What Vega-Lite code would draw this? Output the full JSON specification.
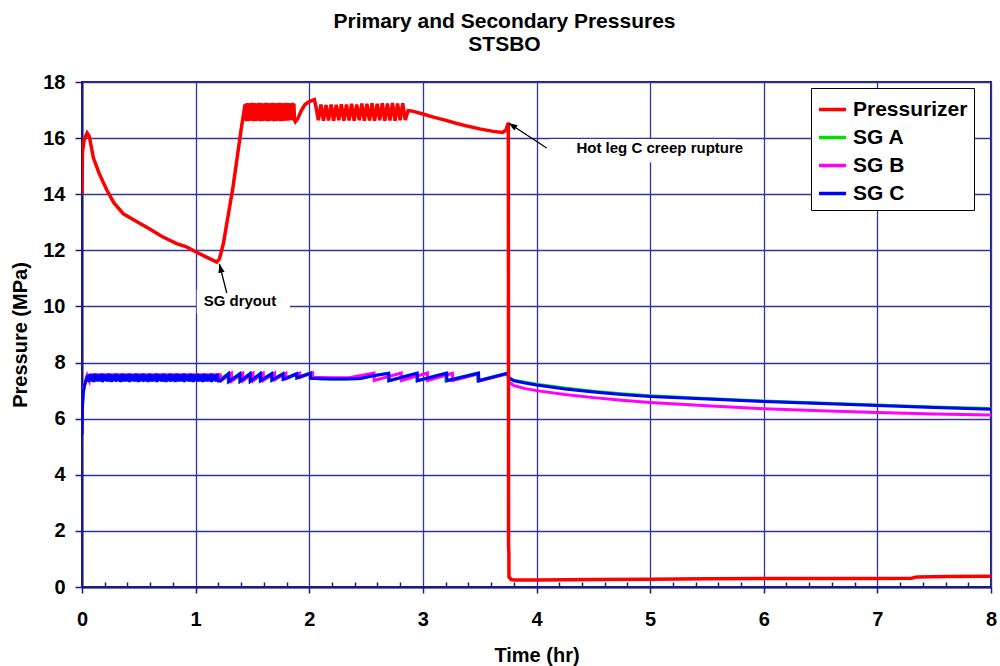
{
"$schema":"https://vega.github.io/schema/vega-lite/v6.json",
"width":909,"height":505,
"autosize":{"type":"none"},
"padding":{"left":82,"top":82,"right":9,"bottom":79},
"background":"white",
"title":{"text":["Primary and Secondary Pressures","STSBO"],"font":"Liberation Sans","fontSize":21,"fontWeight":"bold","color":"#000000","anchor":"middle","dx":-32,"offset":-4,"lineHeight":23.5,"baseline":"bottom"},
"config":{
 "font":"Liberation Sans",
 "view":{"stroke":"#1A1A80","strokeWidth":2},
 "axis":{"labelFont":"Liberation Sans","labelFontSize":20,"labelFontWeight":"bold","labelColor":"#000000","titleFont":"Liberation Sans","titleFontSize":20,"titleFontWeight":"bold","titleColor":"#000000","domainColor":"#1A1A80","domainWidth":2,"tickColor":"#1A1A80","tickWidth":1.5,"gridColor":"#333399","gridWidth":1.3,"gridOpacity":1},
 "legend":{"orient":"none","legendX":729,"legendY":6,"title":null,"labelFont":"Liberation Sans","labelFontSize":21,"labelFontWeight":"bold","labelColor":"#000000","symbolType":"stroke","symbolSize":729,"symbolStrokeWidth":3.5,"labelOffset":5,"rowPadding":2,"padding":6,"strokeColor":"#000000","fillColor":"#FFFFFF","labelLimit":300}
},
"datasets":{
 "pzr":[{"t":0,"p":14.0},{"t":0.004,"p":15.5},{"t":0.02,"p":15.95},{"t":0.045,"p":16.18},{"t":0.065,"p":16.05},{"t":0.1,"p":15.3},{"t":0.15,"p":14.75},{"t":0.217,"p":14.16},{"t":0.28,"p":13.7},{"t":0.364,"p":13.3},{"t":0.48,"p":13.03},{"t":0.6,"p":12.75},{"t":0.7,"p":12.5},{"t":0.833,"p":12.24},{"t":0.92,"p":12.12},{"t":1.0,"p":11.95},{"t":1.1,"p":11.75},{"t":1.186,"p":11.58},{"t":1.21,"p":11.7},{"t":1.245,"p":12.26},{"t":1.33,"p":14.28},{"t":1.4,"p":16.3},{"t":1.435,"p":17.2},
 {"t":1.44,"p":16.62},{"t":1.445,"p":17.22},{"t":1.45,"p":16.6},{"t":1.455,"p":17.25},{"t":1.46,"p":16.63},{"t":1.465,"p":17.2},{"t":1.47,"p":16.61},{"t":1.475,"p":17.24},{"t":1.48,"p":16.64},{"t":1.485,"p":17.21},{"t":1.49,"p":16.65},{"t":1.495,"p":17.26},
 {"t":1.5,"p":16.62},{"t":1.505,"p":17.22},{"t":1.51,"p":16.6},{"t":1.515,"p":17.25},{"t":1.52,"p":16.63},{"t":1.525,"p":17.2},{"t":1.53,"p":16.61},{"t":1.535,"p":17.24},{"t":1.54,"p":16.64},{"t":1.545,"p":17.21},{"t":1.55,"p":16.65},{"t":1.555,"p":17.26},
 {"t":1.56,"p":16.62},{"t":1.565,"p":17.22},{"t":1.57,"p":16.6},{"t":1.575,"p":17.25},{"t":1.58,"p":16.63},{"t":1.585,"p":17.2},{"t":1.59,"p":16.61},{"t":1.595,"p":17.24},{"t":1.6,"p":16.64},{"t":1.605,"p":17.21},{"t":1.61,"p":16.65},{"t":1.615,"p":17.26},
 {"t":1.62,"p":16.62},{"t":1.625,"p":17.22},{"t":1.63,"p":16.6},{"t":1.635,"p":17.25},{"t":1.64,"p":16.63},{"t":1.645,"p":17.2},{"t":1.65,"p":16.61},{"t":1.655,"p":17.24},{"t":1.66,"p":16.64},{"t":1.665,"p":17.21},{"t":1.67,"p":16.65},{"t":1.675,"p":17.26},
 {"t":1.68,"p":16.62},{"t":1.685,"p":17.22},{"t":1.69,"p":16.6},{"t":1.695,"p":17.25},{"t":1.7,"p":16.63},{"t":1.705,"p":17.2},{"t":1.71,"p":16.61},{"t":1.715,"p":17.24},{"t":1.72,"p":16.64},{"t":1.725,"p":17.21},{"t":1.73,"p":16.65},{"t":1.735,"p":17.26},
 {"t":1.74,"p":16.62},{"t":1.745,"p":17.22},{"t":1.75,"p":16.6},{"t":1.755,"p":17.25},{"t":1.76,"p":16.66},{"t":1.765,"p":17.2},{"t":1.77,"p":16.61},{"t":1.775,"p":17.24},{"t":1.78,"p":16.67},{"t":1.785,"p":17.21},{"t":1.79,"p":16.65},{"t":1.795,"p":17.26},
 {"t":1.8,"p":16.62},{"t":1.805,"p":17.22},{"t":1.81,"p":16.68},{"t":1.815,"p":17.25},{"t":1.82,"p":16.63},{"t":1.825,"p":17.2},{"t":1.83,"p":16.67},{"t":1.835,"p":17.24},{"t":1.84,"p":16.64},{"t":1.845,"p":17.21},{"t":1.85,"p":16.68},{"t":1.855,"p":17.26},
 {"t":1.86,"p":16.65},{"t":1.865,"p":17.22},{"t":1.87,"p":16.64},
 {"t":1.878,"p":16.58},{"t":1.9,"p":16.7},{"t":1.93,"p":16.98},{"t":1.963,"p":17.2},{"t":2.0,"p":17.3},{"t":2.045,"p":17.37},{"t":2.06,"p":17.1},
 {"t":2.08,"p":16.64},{"t":2.1025,"p":17.2},{"t":2.125,"p":16.62},{"t":2.1475,"p":17.18},{"t":2.17,"p":16.63},{"t":2.1925,"p":17.2},{"t":2.215,"p":16.62},{"t":2.2375,"p":17.19},{"t":2.26,"p":16.64},{"t":2.2825,"p":17.21},{"t":2.305,"p":16.62},{"t":2.3275,"p":17.2},{"t":2.35,"p":16.63},{"t":2.3725,"p":17.22},{"t":2.395,"p":16.62},{"t":2.4175,"p":17.2},{"t":2.44,"p":16.64},{"t":2.4625,"p":17.23},{"t":2.485,"p":16.62},{"t":2.5075,"p":17.22},{"t":2.53,"p":16.63},{"t":2.5525,"p":17.24},{"t":2.575,"p":16.62},{"t":2.5975,"p":17.22},{"t":2.62,"p":16.64},{"t":2.6425,"p":17.24},{"t":2.665,"p":16.62},{"t":2.6875,"p":17.23},{"t":2.71,"p":16.63},{"t":2.7325,"p":17.25},{"t":2.755,"p":16.62},{"t":2.7775,"p":17.23},{"t":2.8,"p":16.64},{"t":2.8225,"p":17.24},{"t":2.845,"p":16.65},
 {"t":2.87,"p":16.98},{"t":2.9,"p":16.97},{"t":3.0,"p":16.86},{"t":3.1,"p":16.74},{"t":3.18,"p":16.66},{"t":3.3,"p":16.52},{"t":3.4,"p":16.42},{"t":3.5,"p":16.33},{"t":3.62,"p":16.24},{"t":3.7,"p":16.2},{"t":3.73,"p":16.28},{"t":3.752,"p":16.55},{"t":3.753,"p":12.0},{"t":3.754,"p":1.5},{"t":3.757,"p":1.2},{"t":3.757,"p":0.9},{"t":3.758,"p":0.35},{"t":3.775,"p":0.27},{"t":3.8,"p":0.25},{"t":4.0,"p":0.25},{"t":4.5,"p":0.27},{"t":5.0,"p":0.28},{"t":5.5,"p":0.29},{"t":6.0,"p":0.3},{"t":6.5,"p":0.3},{"t":7.0,"p":0.3},{"t":7.3,"p":0.31},{"t":7.35,"p":0.36},{"t":7.6,"p":0.37},{"t":8.0,"p":0.38}],
 "sga":[{"t":0,"p":5.42},{"t":0.004,"p":6.4},{"t":0.01,"p":6.9},{"t":0.02,"p":7.15},{"t":0.035,"p":7.35},{"t":0.05,"p":7.5},
 {"t":0.06,"p":7.37},{"t":0.09,"p":7.54},{"t":0.12,"p":7.37},{"t":0.15,"p":7.54},{"t":0.18,"p":7.37},{"t":0.21,"p":7.54},{"t":0.24,"p":7.37},{"t":0.27,"p":7.54},{"t":0.3,"p":7.37},{"t":0.33,"p":7.54},{"t":0.36,"p":7.37},{"t":0.39,"p":7.54},{"t":0.42,"p":7.37},{"t":0.45,"p":7.54},{"t":0.48,"p":7.37},{"t":0.51,"p":7.54},{"t":0.54,"p":7.37},{"t":0.57,"p":7.54},{"t":0.6,"p":7.37},{"t":0.63,"p":7.54},{"t":0.66,"p":7.37},{"t":0.69,"p":7.54},{"t":0.72,"p":7.37},{"t":0.75,"p":7.54},{"t":0.78,"p":7.37},{"t":0.81,"p":7.54},{"t":0.84,"p":7.37},{"t":0.87,"p":7.54},{"t":0.9,"p":7.37},{"t":0.93,"p":7.54},{"t":0.96,"p":7.37},{"t":0.99,"p":7.54},{"t":1.02,"p":7.37},{"t":1.05,"p":7.54},{"t":1.08,"p":7.37},{"t":1.11,"p":7.54},{"t":1.14,"p":7.37},{"t":1.17,"p":7.54},{"t":1.2,"p":7.37},
 {"t":1.285,"p":7.6},{"t":1.287,"p":7.32},{"t":1.385,"p":7.6},{"t":1.387,"p":7.33},{"t":1.475,"p":7.6},{"t":1.477,"p":7.33},{"t":1.565,"p":7.6},{"t":1.567,"p":7.35},{"t":1.665,"p":7.6},{"t":1.667,"p":7.37},{"t":1.765,"p":7.6},{"t":1.767,"p":7.4},{"t":1.885,"p":7.6},{"t":1.887,"p":7.45},{"t":2.005,"p":7.62},{"t":2.007,"p":7.44},{"t":2.1,"p":7.42},{"t":2.2,"p":7.41},{"t":2.3,"p":7.41},{"t":2.4,"p":7.42},{"t":2.45,"p":7.43},{"t":2.55,"p":7.52},{"t":2.695,"p":7.62},{"t":2.697,"p":7.35},{"t":2.945,"p":7.62},{"t":2.947,"p":7.35},{"t":3.2,"p":7.62},{"t":3.202,"p":7.35},{"t":3.48,"p":7.62},{"t":3.482,"p":7.35},{"t":3.745,"p":7.63},{"t":3.76,"p":7.47},{"t":3.8,"p":7.37},{"t":3.9,"p":7.3},{"t":4.0,"p":7.23},{"t":4.25,"p":7.09},{"t":4.5,"p":6.98},{"t":4.75,"p":6.89},{"t":5.0,"p":6.82},{"t":5.5,"p":6.72},{"t":6.0,"p":6.63},{"t":6.5,"p":6.56},{"t":7.0,"p":6.49},{"t":7.5,"p":6.42},{"t":8.0,"p":6.36}],
 "sgb":[{"t":0,"p":5.5},{"t":0.005,"p":6.6},{"t":0.015,"p":7.1},{"t":0.03,"p":7.35},{"t":0.045,"p":7.55},
 {"t":0.065,"p":7.35},{"t":0.075,"p":7.61},{"t":0.085,"p":7.36},{"t":0.095,"p":7.6},{"t":0.105,"p":7.34},{"t":0.115,"p":7.62},{"t":0.125,"p":7.35},{"t":0.135,"p":7.61},{"t":0.145,"p":7.36},{"t":0.155,"p":7.6},{"t":0.165,"p":7.34},{"t":0.175,"p":7.62},{"t":0.185,"p":7.35},{"t":0.195,"p":7.61},{"t":0.205,"p":7.36},{"t":0.215,"p":7.6},{"t":0.225,"p":7.34},{"t":0.235,"p":7.62},{"t":0.245,"p":7.35},{"t":0.255,"p":7.61},{"t":0.265,"p":7.36},{"t":0.275,"p":7.6},{"t":0.285,"p":7.34},{"t":0.295,"p":7.62},
 {"t":0.305,"p":7.35},{"t":0.315,"p":7.61},{"t":0.325,"p":7.36},{"t":0.335,"p":7.6},{"t":0.345,"p":7.34},{"t":0.355,"p":7.62},{"t":0.365,"p":7.35},{"t":0.375,"p":7.61},{"t":0.385,"p":7.36},{"t":0.395,"p":7.6},{"t":0.405,"p":7.34},{"t":0.415,"p":7.62},{"t":0.425,"p":7.35},{"t":0.435,"p":7.61},{"t":0.445,"p":7.36},{"t":0.455,"p":7.6},{"t":0.465,"p":7.34},{"t":0.475,"p":7.62},{"t":0.485,"p":7.35},{"t":0.495,"p":7.61},
 {"t":0.505,"p":7.36},{"t":0.515,"p":7.6},{"t":0.525,"p":7.34},{"t":0.535,"p":7.62},{"t":0.545,"p":7.35},{"t":0.555,"p":7.61},{"t":0.565,"p":7.36},{"t":0.575,"p":7.6},{"t":0.585,"p":7.34},{"t":0.595,"p":7.62},{"t":0.605,"p":7.35},{"t":0.615,"p":7.61},{"t":0.625,"p":7.36},{"t":0.635,"p":7.6},{"t":0.645,"p":7.34},{"t":0.655,"p":7.62},{"t":0.665,"p":7.35},{"t":0.675,"p":7.61},{"t":0.685,"p":7.36},{"t":0.695,"p":7.6},
 {"t":0.705,"p":7.34},{"t":0.715,"p":7.62},{"t":0.725,"p":7.35},{"t":0.735,"p":7.61},{"t":0.745,"p":7.36},{"t":0.755,"p":7.6},{"t":0.765,"p":7.34},{"t":0.775,"p":7.62},{"t":0.785,"p":7.35},{"t":0.795,"p":7.61},{"t":0.805,"p":7.36},{"t":0.815,"p":7.6},{"t":0.825,"p":7.34},{"t":0.835,"p":7.62},{"t":0.845,"p":7.35},{"t":0.855,"p":7.61},{"t":0.865,"p":7.36},{"t":0.875,"p":7.6},{"t":0.885,"p":7.34},{"t":0.895,"p":7.62},
 {"t":0.905,"p":7.35},{"t":0.915,"p":7.61},{"t":0.925,"p":7.36},{"t":0.935,"p":7.6},{"t":0.945,"p":7.34},{"t":0.955,"p":7.62},{"t":0.965,"p":7.35},{"t":0.975,"p":7.61},{"t":0.985,"p":7.36},{"t":0.995,"p":7.6},{"t":1.005,"p":7.34},{"t":1.015,"p":7.62},{"t":1.025,"p":7.35},{"t":1.035,"p":7.61},{"t":1.045,"p":7.36},{"t":1.055,"p":7.6},{"t":1.065,"p":7.34},{"t":1.075,"p":7.62},{"t":1.085,"p":7.35},{"t":1.095,"p":7.61},
 {"t":1.105,"p":7.36},{"t":1.115,"p":7.6},{"t":1.125,"p":7.34},{"t":1.135,"p":7.62},{"t":1.145,"p":7.35},{"t":1.155,"p":7.61},{"t":1.165,"p":7.36},{"t":1.175,"p":7.6},{"t":1.185,"p":7.34},{"t":1.195,"p":7.62},{"t":1.205,"p":7.35},{"t":1.215,"p":7.61},{"t":1.225,"p":7.36},
 {"t":1.315,"p":7.62},{"t":1.317,"p":7.34},{"t":1.415,"p":7.62},{"t":1.417,"p":7.35},{"t":1.505,"p":7.62},{"t":1.507,"p":7.35},{"t":1.595,"p":7.62},{"t":1.597,"p":7.37},{"t":1.695,"p":7.62},{"t":1.697,"p":7.39},{"t":1.795,"p":7.62},{"t":1.797,"p":7.42},{"t":1.915,"p":7.62},{"t":1.917,"p":7.47},{"t":2.03,"p":7.63},{"t":2.032,"p":7.48},{"t":2.1,"p":7.47},{"t":2.2,"p":7.46},{"t":2.3,"p":7.46},{"t":2.35,"p":7.46},{"t":2.57,"p":7.63},{"t":2.572,"p":7.36},{"t":2.81,"p":7.63},{"t":2.812,"p":7.36},{"t":3.04,"p":7.63},{"t":3.042,"p":7.36},{"t":3.26,"p":7.62},{"t":3.262,"p":7.36},{"t":3.49,"p":7.6},{"t":3.492,"p":7.34},{"t":3.745,"p":7.6},{"t":3.76,"p":7.3},{"t":3.8,"p":7.18},{"t":3.9,"p":7.07},{"t":4.0,"p":7.0},{"t":4.25,"p":6.86},{"t":4.5,"p":6.75},{"t":4.75,"p":6.66},{"t":5.0,"p":6.58},{"t":5.5,"p":6.46},{"t":6.0,"p":6.35},{"t":6.5,"p":6.28},{"t":7.0,"p":6.22},{"t":7.5,"p":6.17},{"t":8.0,"p":6.13}],
 "sgc":[{"t":0,"p":5.42},{"t":0.004,"p":6.4},{"t":0.01,"p":6.9},{"t":0.02,"p":7.15},{"t":0.035,"p":7.35},{"t":0.05,"p":7.55},
 {"t":0.06,"p":7.32},{"t":0.07,"p":7.58},{"t":0.08,"p":7.33},{"t":0.09,"p":7.57},{"t":0.1,"p":7.31},{"t":0.11,"p":7.59},{"t":0.12,"p":7.34},{"t":0.13,"p":7.58},{"t":0.14,"p":7.32},{"t":0.15,"p":7.57},{"t":0.16,"p":7.33},{"t":0.17,"p":7.59},{"t":0.18,"p":7.31},{"t":0.19,"p":7.58},{"t":0.2,"p":7.34},{"t":0.21,"p":7.57},{"t":0.22,"p":7.32},{"t":0.23,"p":7.59},{"t":0.24,"p":7.33},{"t":0.25,"p":7.58},{"t":0.26,"p":7.31},{"t":0.27,"p":7.57},{"t":0.28,"p":7.34},{"t":0.29,"p":7.59},
 {"t":0.3,"p":7.32},{"t":0.31,"p":7.58},{"t":0.32,"p":7.33},{"t":0.33,"p":7.57},{"t":0.34,"p":7.31},{"t":0.35,"p":7.59},{"t":0.36,"p":7.34},{"t":0.37,"p":7.58},{"t":0.38,"p":7.32},{"t":0.39,"p":7.57},{"t":0.4,"p":7.33},{"t":0.41,"p":7.59},{"t":0.42,"p":7.31},{"t":0.43,"p":7.58},{"t":0.44,"p":7.34},{"t":0.45,"p":7.57},{"t":0.46,"p":7.32},{"t":0.47,"p":7.59},{"t":0.48,"p":7.33},{"t":0.49,"p":7.58},
 {"t":0.5,"p":7.31},{"t":0.51,"p":7.57},{"t":0.52,"p":7.34},{"t":0.53,"p":7.59},{"t":0.54,"p":7.32},{"t":0.55,"p":7.58},{"t":0.56,"p":7.33},{"t":0.57,"p":7.57},{"t":0.58,"p":7.31},{"t":0.59,"p":7.59},{"t":0.6,"p":7.34},{"t":0.61,"p":7.58},{"t":0.62,"p":7.32},{"t":0.63,"p":7.57},{"t":0.64,"p":7.33},{"t":0.65,"p":7.59},{"t":0.66,"p":7.31},{"t":0.67,"p":7.58},{"t":0.68,"p":7.34},{"t":0.69,"p":7.57},
 {"t":0.7,"p":7.32},{"t":0.71,"p":7.59},{"t":0.72,"p":7.33},{"t":0.73,"p":7.58},{"t":0.74,"p":7.31},{"t":0.75,"p":7.57},{"t":0.76,"p":7.34},{"t":0.77,"p":7.59},{"t":0.78,"p":7.32},{"t":0.79,"p":7.58},{"t":0.8,"p":7.33},{"t":0.81,"p":7.57},{"t":0.82,"p":7.31},{"t":0.83,"p":7.59},{"t":0.84,"p":7.34},{"t":0.85,"p":7.58},{"t":0.86,"p":7.32},{"t":0.87,"p":7.57},{"t":0.88,"p":7.33},{"t":0.89,"p":7.59},
 {"t":0.9,"p":7.31},{"t":0.91,"p":7.58},{"t":0.92,"p":7.34},{"t":0.93,"p":7.57},{"t":0.94,"p":7.32},{"t":0.95,"p":7.59},{"t":0.96,"p":7.33},{"t":0.97,"p":7.58},{"t":0.98,"p":7.31},{"t":0.99,"p":7.57},{"t":1.0,"p":7.34},{"t":1.01,"p":7.59},{"t":1.02,"p":7.32},{"t":1.03,"p":7.58},{"t":1.04,"p":7.33},{"t":1.05,"p":7.57},{"t":1.06,"p":7.31},{"t":1.07,"p":7.59},{"t":1.08,"p":7.34},{"t":1.09,"p":7.58},
 {"t":1.1,"p":7.32},{"t":1.11,"p":7.57},{"t":1.12,"p":7.33},{"t":1.13,"p":7.59},{"t":1.14,"p":7.31},{"t":1.15,"p":7.58},{"t":1.16,"p":7.34},{"t":1.17,"p":7.57},{"t":1.18,"p":7.32},{"t":1.19,"p":7.59},{"t":1.2,"p":7.34},
 {"t":1.215,"p":7.34},{"t":1.29,"p":7.6},{"t":1.292,"p":7.32},{"t":1.39,"p":7.6},{"t":1.392,"p":7.33},{"t":1.48,"p":7.6},{"t":1.482,"p":7.33},{"t":1.57,"p":7.6},{"t":1.572,"p":7.35},{"t":1.67,"p":7.6},{"t":1.672,"p":7.37},{"t":1.77,"p":7.6},{"t":1.772,"p":7.4},{"t":1.89,"p":7.6},{"t":1.892,"p":7.45},{"t":2.01,"p":7.62},{"t":2.012,"p":7.44},{"t":2.1,"p":7.42},{"t":2.2,"p":7.41},{"t":2.3,"p":7.41},{"t":2.4,"p":7.42},{"t":2.45,"p":7.43},{"t":2.55,"p":7.52},{"t":2.7,"p":7.62},{"t":2.702,"p":7.35},{"t":2.95,"p":7.62},{"t":2.952,"p":7.35},{"t":3.21,"p":7.62},{"t":3.212,"p":7.35},{"t":3.49,"p":7.62},{"t":3.492,"p":7.35},{"t":3.745,"p":7.62},{"t":3.76,"p":7.45},{"t":3.8,"p":7.35},{"t":3.9,"p":7.27},{"t":4.0,"p":7.2},{"t":4.25,"p":7.06},{"t":4.5,"p":6.95},{"t":4.75,"p":6.86},{"t":5.0,"p":6.79},{"t":5.5,"p":6.7},{"t":6.0,"p":6.61},{"t":6.5,"p":6.54},{"t":7.0,"p":6.47},{"t":7.5,"p":6.4},{"t":8.0,"p":6.34}],
 "notes":[{"label":"SG dryout","t":1.39,"p":10.19,"t2":1.209,"p2":11.52,"at":1.274,"ap":10.48,"bx":1.01,"bx2":1.83,"by":9.75,"by2":10.6},{"label":"Hot leg C creep rupture","t":5.085,"p":15.64,"t2":3.753,"p2":16.54,"at":4.09,"ap":15.65,"bx":4.12,"bx2":5.75,"by":15.13,"by2":15.97}]
},
"encoding":{
 "x":{"field":"t","type":"quantitative","title":"Time (hr)","scale":{"domain":[0,8],"nice":false,"zero":false},
  "axis":{"values":[0,0.2,0.4,0.6,0.8,1,1.2,1.4,1.6,1.8,2,2.2,2.4,2.6,2.8,3,3.2,3.4,3.6,3.8,4,4.2,4.4,4.6,4.8,5,5.2,5.4,5.6,5.8,6,6.2,6.4,6.6,6.8,7,7.2,7.4,7.6,7.8,8],
   "labelExpr":"datum.value % 1 === 0 ? format(datum.value, 'd') : ''",
   "tickSize":{"condition":{"test":"datum.value % 1 === 0","value":6},"value":-5},
   "gridOpacity":{"condition":{"test":"datum.value % 1 === 0","value":1},"value":0},
   "labelPadding":16,"titlePadding":16,"labelFlush":false,"labelOverlap":false}},
 "y":{"field":"p","type":"quantitative","title":"Pressure (MPa)","scale":{"domain":[0,18],"nice":false,"zero":false},
  "axis":{"values":[0,2,4,6,8,10,12,14,16,18],"tickSize":7,"labelPadding":10,"titlePadding":12,"labelFlush":false}}
},
"layer":[
 {"data":{"name":"notes"},"mark":{"type":"rect","fill":"#FFFFFF","stroke":null},
  "encoding":{"x":{"field":"bx","type":"quantitative"},"x2":{"field":"bx2"},"y":{"field":"by","type":"quantitative"},"y2":{"field":"by2"}}},
 {"data":{"name":"sga"},"mark":{"type":"line","strokeWidth":3,"clip":true},
  "encoding":{"order":{"value":null},"color":{"datum":"SG A","type":"nominal","scale":{"domain":["Pressurizer","SG A","SG B","SG C"],"range":["#FF0000","#00E000","#FF00FF","#0000FF"]}}}},
 {"data":{"name":"sgb"},"mark":{"type":"line","strokeWidth":3,"clip":true},
  "encoding":{"order":{"value":null},"color":{"datum":"SG B","type":"nominal"}}},
 {"data":{"name":"sgc"},"mark":{"type":"line","strokeWidth":3,"clip":true},
  "encoding":{"order":{"value":null},"color":{"datum":"SG C","type":"nominal"}}},
 {"data":{"name":"pzr"},"mark":{"type":"line","strokeWidth":3.5,"clip":true},
  "encoding":{"order":{"value":null},"color":{"datum":"Pressurizer","type":"nominal"}}},
 {"data":{"name":"notes"},"mark":{"type":"rule","color":"#000000","strokeWidth":1.3},
  "encoding":{"x":{"field":"at","type":"quantitative"},"y":{"field":"ap","type":"quantitative"},"x2":{"field":"t2"},"y2":{"field":"p2"}}},
 {"data":{"name":"notes"},"transform":[{"filter":"datum.label === 'SG dryout'"}],"mark":{"type":"point","shape":"M0,0L-0.35,1L0.35,1Z","filled":true,"color":"#000000","size":324,"angle":346,"opacity":1},
  "encoding":{"x":{"field":"t2","type":"quantitative"},"y":{"field":"p2","type":"quantitative"}}},
 {"data":{"name":"notes"},"transform":[{"filter":"datum.label !== 'SG dryout'"}],"mark":{"type":"point","shape":"M0,0L-0.35,1L0.35,1Z","filled":true,"color":"#000000","size":324,"angle":303,"opacity":1},
  "encoding":{"x":{"field":"t2","type":"quantitative"},"y":{"field":"p2","type":"quantitative"}}},
 {"data":{"name":"notes"},"mark":{"type":"text","font":"Liberation Sans","fontSize":15,"fontWeight":"bold","color":"#000000","align":"center","baseline":"middle"},
  "encoding":{"text":{"field":"label"}}}
]
}
